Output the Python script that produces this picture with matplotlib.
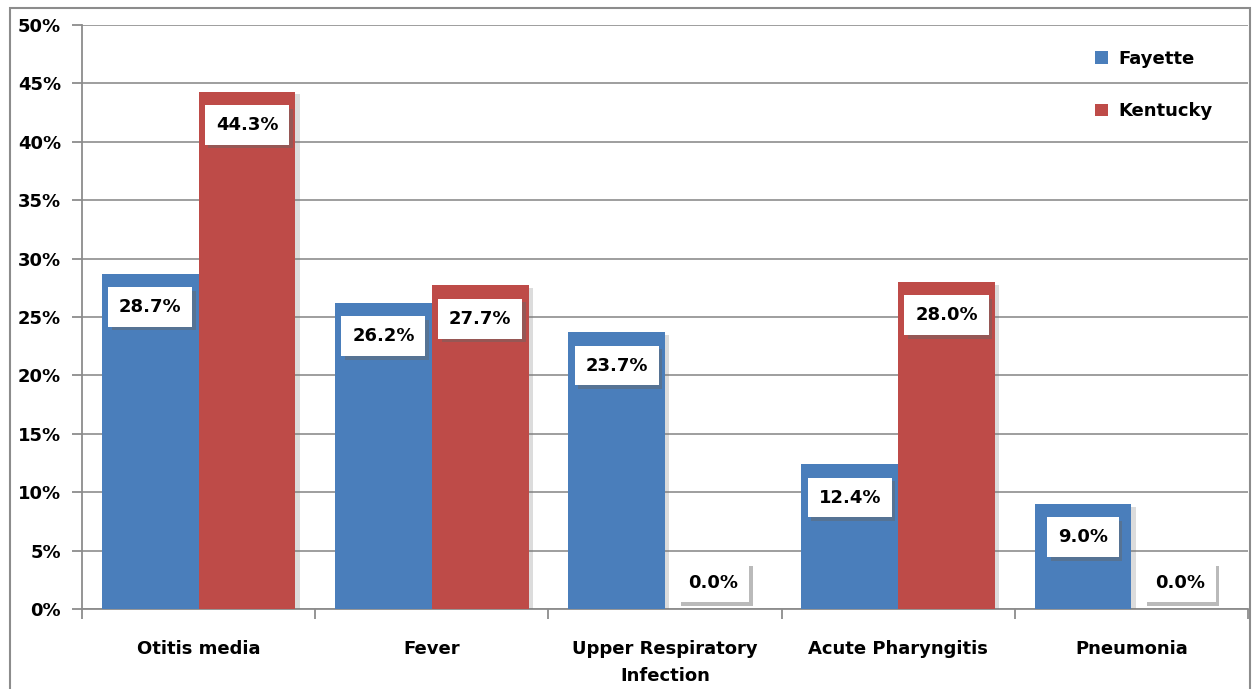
import matplotlib.pyplot as plt
import matplotlib.patheffects as pe
from matplotlib.patches import Rectangle
import numpy as np

categories = ['Otitis media', 'Fever', 'Upper Respiratory\nInfection',
              'Acute Pharyngitis', 'Pneumonia']
fayette = [28.7, 26.2, 23.7, 12.4, 9.0]
kentucky = [44.3, 27.7, 0.0, 28.0, 0.0]
series_names = ['Fayette', 'Kentucky']
colors = ['#4A7EBB', '#BE4B48']

plt.rcParams['font.family'] = ['DejaVu Sans']

fig = plt.figure(figsize=(12.58, 6.89), dpi=100)
fig.patch.set_facecolor('white')
# outer chart frame
fig.patches.append(Rectangle((10 / 1258, -0.01), 1240 / 1258, 1 - 8 / 689 + 0.01,
                             transform=fig.transFigure, fill=False,
                             edgecolor='#8c8c8c', linewidth=1.5, zorder=0))

ax = fig.add_axes([82 / 1258, 1 - 609 / 689, (1248 - 82) / 1258, (609 - 25) / 689])

x = np.arange(len(categories))
w = 0.415
bar_shadow = [pe.SimplePatchShadow(offset=(3, -2), shadow_rgbFace='#777777', alpha=0.25), pe.Normal()]
box_shadow = [pe.SimplePatchShadow(offset=(2.5, -2.5), shadow_rgbFace='#666666', alpha=0.45), pe.Normal()]

for i, (vals, col, name) in enumerate(zip([fayette, kentucky], colors, series_names)):
    xs = x + (i - 0.5) * w
    bars = ax.bar(xs, vals, width=w, color=col, label=name, zorder=3)
    for b in bars:
        b.set_path_effects(bar_shadow)
    for xi, v in zip(xs, vals):
        off = -24 if v > 0 else 19
        t = ax.annotate(f'{v:.1f}%', (xi, v), xytext=(0, off), textcoords='offset points',
                        ha='center', va='center', fontsize=13, fontweight='bold', zorder=5,
                        bbox=dict(boxstyle='square,pad=0.6', facecolor='white',
                                  edgecolor='none'))
        t.get_bbox_patch().set_path_effects(box_shadow)

ax.set_xlim(-0.5, len(categories) - 0.5)
ax.set_ylim(0, 50)
ax.set_yticks(np.arange(0, 51, 5))
ax.set_yticklabels([f'{v}%' for v in range(0, 51, 5)], fontsize=13, fontweight='bold')
ax.yaxis.grid(True, color='#969696', linewidth=1.3, zorder=0)
ax.set_axisbelow(True)

ax.set_xticks(x)
ax.set_xticklabels(categories, fontsize=13, fontweight='bold', linespacing=1.7)
ax.tick_params(axis='x', length=0, pad=22)
ax.set_xticks(np.arange(-0.5, len(categories)), minor=True)
ax.tick_params(axis='x', which='minor', length=7, width=1.3, color='#8c8c8c')
ax.tick_params(axis='y', length=7, width=1.3, color='#8c8c8c', pad=8)

for s in ['top', 'right']:
    ax.spines[s].set_visible(False)
for s in ['left', 'bottom']:
    ax.spines[s].set_color('#8c8c8c')
    ax.spines[s].set_linewidth(1.3)

leg = ax.legend(loc='upper left', bbox_to_anchor=(0.855, 0.985), frameon=False,
                prop={'weight': 'bold', 'size': 13}, handlelength=0.7, handleheight=0.7,
                labelspacing=1.9, handletextpad=0.6, borderpad=0.4)
for h in leg.legend_handles:
    h.set_path_effects([])

fig.savefig('out.png', dpi=100, facecolor='white')
